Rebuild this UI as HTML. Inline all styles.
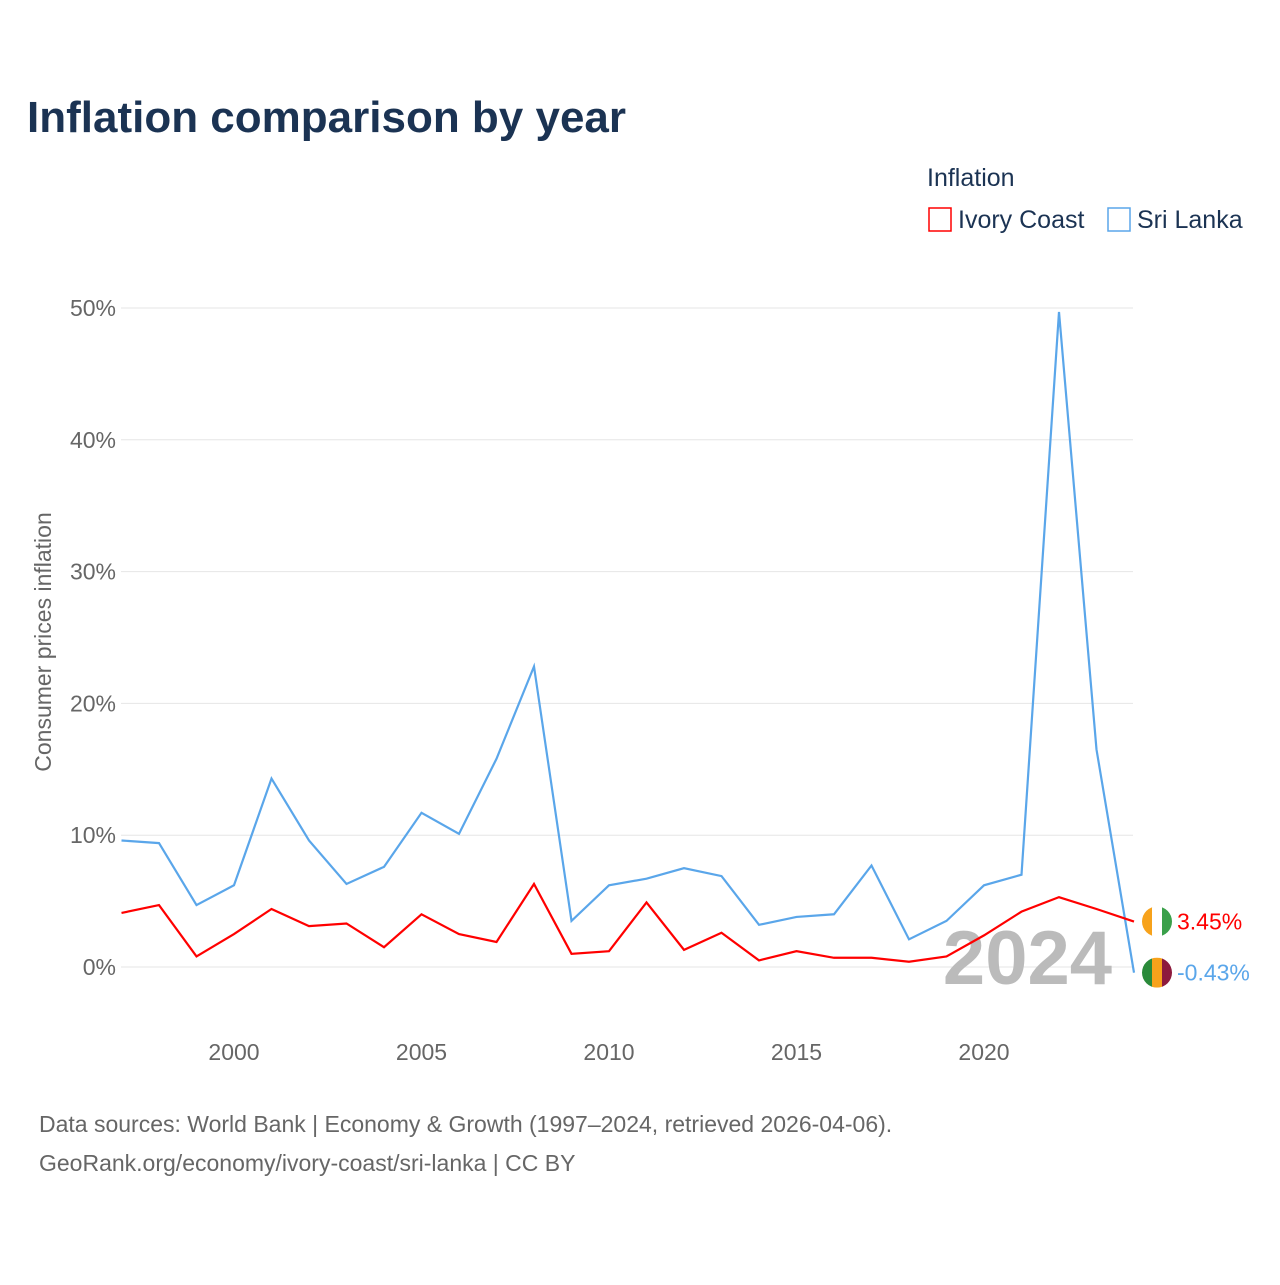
<!DOCTYPE html>
<html><head><meta charset="utf-8"><style>
body{margin:0;background:#fff;font-family:"Liberation Sans",sans-serif}
#c{position:relative;width:1280px;height:1280px}
</style></head><body>
<div id="c">
<svg id="s" width="1280" height="1280" xmlns="http://www.w3.org/2000/svg">
<defs id="defs"></defs>
<text x="27" y="132" font-size="44" font-weight="bold" fill="#1b3353">Inflation comparison by year</text>
<text x="927" y="186" font-size="25" fill="#1b3353">Inflation</text>
<g><rect x="929" y="208" width="22" height="23" fill="none" stroke="#f00" stroke-width="1.5"/><text x="958" y="228" font-size="25" fill="#1b3353">Ivory Coast</text></g>
<g><rect x="1108" y="208" width="22" height="23" fill="none" stroke="#5aa6ea" stroke-width="1.5"/><text x="1137" y="228" font-size="25" fill="#1b3353">Sri Lanka</text></g>
<text transform="translate(51,642) rotate(-90)" text-anchor="middle" font-size="23" fill="#666">Consumer prices inflation</text>
<g id="grid"></g><g id="ticks"></g>
<text x="1112" y="984" text-anchor="end" font-size="76" font-weight="bold" fill="#bbb">2024</text>
<g id="lines"></g>
<text x="39" y="1132" font-size="23" fill="#666">Data sources: World Bank | Economy &amp; Growth (1997–2024, retrieved 2026-04-06).</text>
<text x="39" y="1171" font-size="23" fill="#666">GeoRank.org/economy/ivory-coast/sri-lanka | CC BY</text>
</svg></div>
<script>
const years=[1997,1998,1999,2000,2001,2002,2003,2004,2005,2006,2007,2008,2009,2010,2011,2012,2013,2014,2015,2016,2017,2018,2019,2020,2021,2022,2023,2024];
const sriLanka=[9.6,9.4,4.7,6.2,14.3,9.6,6.3,7.6,11.7,10.1,15.8,22.8,3.5,6.2,6.7,7.5,6.9,3.2,3.8,4.0,7.7,2.1,3.5,6.2,7.0,49.7,16.5,-0.43];
const ivoryCoast=[4.1,4.7,0.8,2.5,4.4,3.1,3.3,1.5,4.0,2.5,1.9,6.3,1.0,1.2,4.9,1.3,2.6,0.5,1.2,0.7,0.7,0.4,0.8,2.4,4.2,5.3,4.4,3.45];
const yTicks=[0,10,20,30,40,50];
const xTicks=[2000,2005,2010,2015,2020];
const X=y=>121.5+(y-1997)*37.5, Y=v=>967-v*13.18;
const NS="http://www.w3.org/2000/svg";
function mk(t,a,p){const e=document.createElementNS(NS,t);for(const k in a)e.setAttribute(k,a[k]);p.appendChild(e);return e;}
const g=document.getElementById('grid'),tk=document.getElementById('ticks'),ln=document.getElementById('lines'),defs=document.getElementById('defs');
yTicks.forEach(v=>{const l=mk('line',{x1:121,x2:1133,y1:Y(v),y2:Y(v),stroke:'#e6e6e6'},g);


const t=mk('text',{x:116,y:Y(v)+8,'text-anchor':'end','font-size':23,fill:'#666'},tk);t.textContent=v+'%';

});
xTicks.forEach(v=>{const t=mk('text',{x:X(v),y:1060,'text-anchor':'middle','font-size':23,fill:'#666'},tk);t.textContent=v;

});
function series(d,c,n,stripes){const p=mk('polyline',{points:d.map((v,i)=>X(years[i])+','+Y(v)).join(' '),fill:'none',stroke:c,'stroke-width':2.2},ln);


const last=d[d.length-1],lx=X(years[years.length-1])+23,ly=Y(last);
const cp=mk('clipPath',{id:'cp-'+n},defs);mk('circle',{cx:lx,cy:ly,r:15},cp);
const fg=mk('g',{'clip-path':'url(#cp-'+n+')'},ln);


stripes.forEach((col,i)=>mk('rect',{x:lx-15+i*10,y:ly-15,width:10.5,height:30,fill:col},fg));
const t=mk('text',{x:lx+20,y:ly+8,'font-size':23,fill:c},ln);t.textContent=last.toFixed(2)+'%';

}
series(sriLanka,'#5aa6ea','sri-lanka',['#2a8a3a','#f7a21b','#8d1b3d']);
series(ivoryCoast,'#ff0000','ivory-coast',['#f7a21b','#ffffff','#3aa04a']);
</script></body></html>
